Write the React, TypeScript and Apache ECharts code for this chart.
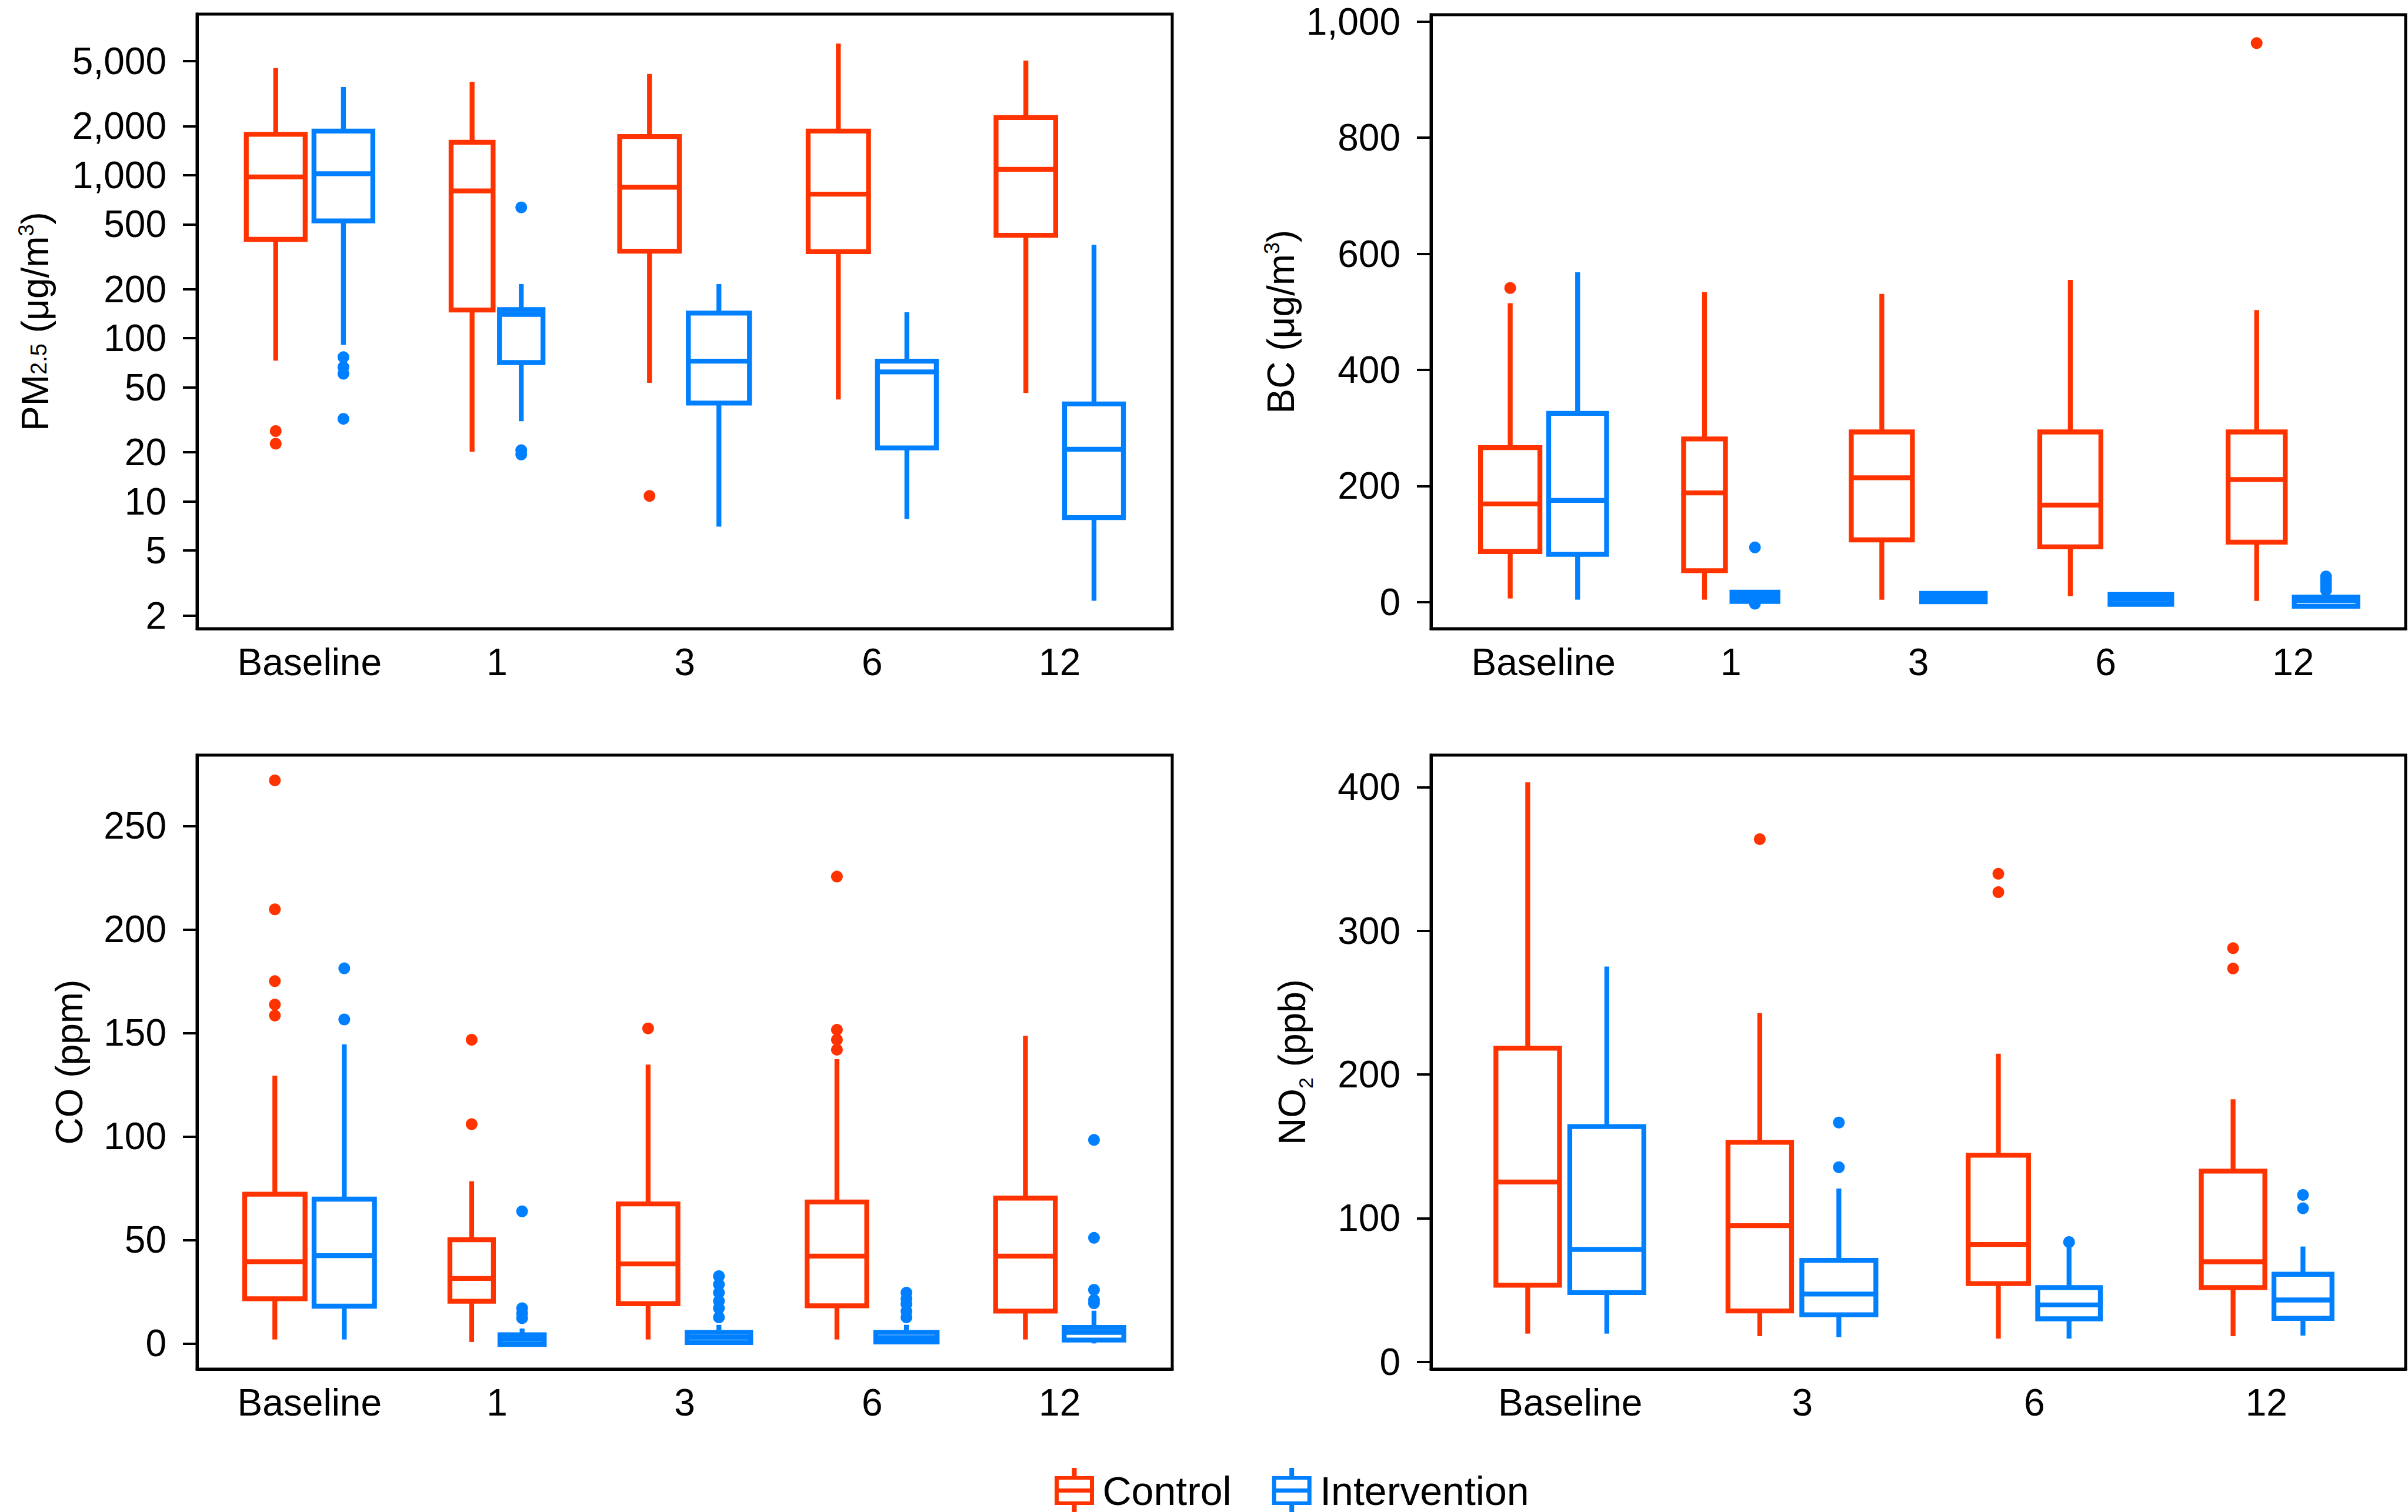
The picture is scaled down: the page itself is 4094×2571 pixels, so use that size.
import React, { useEffect, useRef } from 'react';
import * as echarts from 'echarts';

const RED = '#FF3300';
const BLUE = '#0080FF';
const FONT = "'Liberation Sans', Arial, Helvetica, sans-serif";

// categories
const timepoints5 = ['Baseline', '1', '3', '6', '12'];
const timepoints4 = ['Baseline', '3', '6', '12'];

// box statistics: [min, Q1, median, Q3, max]
const pmControl = [[73, 404, 975, 1780, 4530], [20.2, 149, 801, 1590, 3740], [53.3, 342, 843, 1726, 4170], [42.2, 340, 765, 1862, 6410], [46.2, 428, 1086, 2255, 5040]];
const pmIntervention = [[91, 524, 1020, 1862, 3470], [31, 71, 140, 150, 215], [7.0, 40.1, 72.4, 142.6, 215], [7.8, 21.3, 62.2, 72.4, 144.5], [2.46, 7.96, 20.9, 39.6, 374]];
// outliers: [categoryIndex, value]
const pmControlOut = [[0, 27], [0, 22.6], [2, 10.8]];
const pmInterventionOut = [[0, 76.6], [0, 66.6], [0, 60.6], [0, 32.1], [1, 634], [1, 20.6], [1, 19.4]];
// relative box widths (varwidth)
const pmWidthC = [0.314, 0.224, 0.318, 0.322, 0.318];
const pmWidthI = [0.314, 0.232, 0.326, 0.314, 0.314];

const bcControl = [[6, 87, 169, 266, 515], [4, 54, 188, 281, 534], [4, 107, 214, 293, 531], [10, 95, 167, 293, 555], [2, 103, 211, 293, 503]];
const bcIntervention = [[4, 82, 175, 325, 568], [0, 1, 9, 17, 19], [0, 0.5, 8, 15, 16], [-5, -4, 4.4, 13, 14], [-8, -7.4, 2.2, 8.3, 14]];
const bcControlOut = [[0, 541], [4, 963]];
const bcInterventionOut = [[1, 94], [1, -3], [4, 44], [4, 38], [4, 32], [4, 26], [4, 20]];
const bcWidthC = [0.317, 0.223, 0.326, 0.326, 0.305];
const bcWidthI = [0.309, 0.245, 0.339, 0.329, 0.339];

const coControl = [[1.9, 21.6, 39.5, 72.1, 129.4], [0.7, 20.4, 31.4, 50.1, 78.4], [1.9, 19.2, 38.4, 67.4, 134.7], [1.9, 18.2, 42.2, 68.3, 137.3], [1.9, 15.6, 42.2, 70.2, 148.6]];
const coIntervention = [[1.9, 18, 42.4, 69.7, 144.5], [0, -0.5, 1.9, 4.2, 7.2], [0, 0.4, 3.0, 5.3, 9], [0, 0.7, 2.8, 5.3, 9], [0, 1.6, 5.3, 7.7, 15.8]];
const coControlOut = [[0, 272], [0, 209.7], [0, 175], [0, 163.7], [0, 158.4], [1, 146.7], [1, 105.9], [2, 152.2], [3, 225.5], [3, 151.5], [3, 146.7], [3, 141.9]];
const coInterventionOut = [[0, 181.2], [0, 156.5], [1, 63.8], [1, 17], [1, 14.6], [1, 12.2], [2, 32.5], [2, 28.5], [2, 24.5], [2, 20.5], [2, 17], [2, 12.6], [3, 24.5], [3, 21.5], [3, 19], [3, 15.5], [3, 12.6], [4, 98.3], [4, 51], [4, 25.9], [4, 21], [4, 19.4]];
const coWidthC = [0.322, 0.232, 0.318, 0.318, 0.318];
const coWidthI = [0.322, 0.236, 0.339, 0.327, 0.318];

const no2Control = [[19.7, 53.4, 125.2, 218.3, 403.4], [17.9, 35.5, 94.8, 152.8, 242.8], [16.2, 54.5, 81.7, 143.8, 214.5], [17.9, 51.7, 69.7, 132.8, 182.8]];
const no2Intervention = [[19.7, 48.3, 78.3, 163.8, 275.2], [17.2, 32.8, 47.2, 70.7, 120.7], [16.2, 30, 39.7, 51.7, 82.8], [18.3, 30.3, 43.1, 61, 80.3]];
const no2ControlOut = [[1, 363.8], [2, 339.7], [2, 326.9], [3, 287.9], [3, 273.8]];
const no2InterventionOut = [[1, 166.6], [1, 135.5], [2, 83.4], [3, 116.2], [3, 106.9]];
const no2WidthC = [0.274, 0.274, 0.260, 0.274];
const no2WidthI = [0.319, 0.319, 0.270, 0.250];

// tick labels
const pmTicks = [2, 5, 10, 20, 50, 100, 200, 500, 1000, 2000, 5000];
const bcTicks = [0, 200, 400, 600, 800, 1000];
const coTicks = [0, 50, 100, 150, 200, 250];
const no2Ticks = [0, 100, 200, 300, 400];

const ICON = 'path://M0 14H67V63H0Z M7 20V35H60V20Z M7 42V57H60V42Z M29.5 0H37.5V14H29.5Z M29.5 63H37.5V77H29.5Z';

const fmt = (v: number) => Math.round(v).toLocaleString('en-US');

// dodge: boxes placed side by side, centred on the category
function centers(wc: number[], wi: number[]) {
  const pad = 0.87;
  const c = wc.map((w, k) => k + 1 - wi[k] / pad / 2);
  const i = wi.map((w, k) => k + 1 + wc[k] / pad / 2);
  return { c, i };
}

const makeRender = (color: string) => (params: any, api: any) => {
  const x = api.value(0);
  const w = api.value(6);
  const lo = api.value(1), q1 = api.value(2), med = api.value(3), q3 = api.value(4), hi = api.value(5);
  const pL = api.coord([x - w / 2, q3]);
  const pR = api.coord([x + w / 2, q1]);
  const pMed = api.coord([x, med]);
  const pMin = api.coord([x, lo]);
  const pMax = api.coord([x, hi]);
  const xc = pMed[0];
  const style = { stroke: color, lineWidth: 8.3, fill: 'none' };
  return {
    type: 'group',
    children: [
      { type: 'line', shape: { x1: xc, y1: pL[1], x2: xc, y2: pMax[1] }, style },
      { type: 'line', shape: { x1: xc, y1: pR[1], x2: xc, y2: pMin[1] }, style },
      { type: 'rect', shape: { x: pL[0], y: pL[1], width: pR[0] - pL[0], height: pR[1] - pL[1] }, style },
      { type: 'line', shape: { x1: pL[0], y1: pMed[1], x2: pR[0], y2: pMed[1] }, style },
    ],
  };
};

const nameRich = {
  t: { fontSize: 64, lineHeight: 100, fontFamily: FONT, color: '#000' },
  sub: { fontSize: 38, lineHeight: 38, padding: [11, 0, 0, 0], fontFamily: FONT, color: '#000' },
  low: { fontSize: 34, lineHeight: 34, padding: [46, 0, 0, 0], fontFamily: FONT, color: '#000' },
  sup: { fontSize: 36, lineHeight: 36, padding: [0, 0, 32, 0], fontFamily: FONT, color: '#000' },
};

export default function App() {
  const ref = useRef<HTMLDivElement>(null);
  useEffect(() => {
    if (!ref.current) return;
    const chart = echarts.init(ref.current, undefined, { renderer: 'svg' });

    const panels = [
      { cats: timepoints5, ctrl: pmControl, intv: pmIntervention, cOut: pmControlOut, iOut: pmInterventionOut, wc: pmWidthC, wi: pmWidthI, ticks: pmTicks, log: true, min: 1.66, max: 9705, name: '{t|PM}{sub|2.5}{t| (μg/m}{sup|3}{t|)}', gap: 225 },
      { cats: timepoints5, ctrl: bcControl, intv: bcIntervention, cOut: bcControlOut, iOut: bcInterventionOut, wc: bcWidthC, wi: bcWidthI, ticks: bcTicks, log: false, min: -46, max: 1012, name: '{t|BC (μg/m}{sup|3}{t|)}', gap: 205 },
      { cats: timepoints5, ctrl: coControl, intv: coIntervention, cOut: coControlOut, iOut: coInterventionOut, wc: coWidthC, wi: coWidthI, ticks: coTicks, log: false, min: -12.4, max: 284.2, name: '{t|CO (ppm)}', gap: 167 },
      { cats: timepoints4, ctrl: no2Control, intv: no2Intervention, cOut: no2ControlOut, iOut: no2InterventionOut, wc: no2WidthC, wi: no2WidthI, ticks: no2Ticks, log: false, min: -5, max: 422.3, name: '{t|NO}{low|2}{t| (ppb)}', gap: 186 },
    ];

    const grids = [
      { left: 335, top: 24, width: 1658, height: 1045 },
      { left: 2433, top: 25, width: 1657, height: 1044 },
      { left: 335, top: 1284, width: 1658, height: 1044 },
      { left: 2433, top: 1284, width: 1657, height: 1044 },
    ].map((g) => ({ ...g, show: true, borderColor: '#000', borderWidth: 5, backgroundColor: 'transparent' }));

    const xAxis: any[] = [];
    const yAxis: any[] = [];
    const series: any[] = [];

    panels.forEach((p, pi) => {
      const n = p.cats.length;
      const xs = Array.from({ length: n }, (_, k) => k + 1);
      xAxis.push({
        type: 'value', gridIndex: pi, min: 0.4, max: n + 0.6,
        axisLine: { show: true, onZero: false, lineStyle: { color: '#000', width: 5 } },
        axisTick: { show: false },
        splitLine: { show: false },
        axisLabel: {
          customValues: xs, margin: 25, fontSize: 64, color: '#000', fontFamily: FONT,
          formatter: (v: number) => p.cats[Math.round(v) - 1],
        },
      });
      yAxis.push({
        type: p.log ? 'log' : 'value', logBase: 10, gridIndex: pi, min: p.min, max: p.max,
        axisLine: { show: true, onZero: false, lineStyle: { color: '#000', width: 5 } },
        axisTick: { show: true, length: 24, lineStyle: { color: '#000', width: 4 }, customValues: p.ticks },
        splitLine: { show: false },
        axisLabel: { customValues: p.ticks, margin: 52, fontSize: 64, color: '#000', fontFamily: FONT, formatter: (v: number) => fmt(v) },
        name: p.name, nameLocation: 'middle', nameRotate: 90, nameGap: p.gap, nameMoveOverlap: false,
        nameTextStyle: { rich: nameRich, fontFamily: FONT, color: '#000' },
      });
      const cen = centers(p.wc, p.wi);
      const groups = [
        { name: 'Control', color: RED, box: p.ctrl, out: p.cOut, x: cen.c, w: p.wc },
        { name: 'Intervention', color: BLUE, box: p.intv, out: p.iOut, x: cen.i, w: p.wi },
      ];
      groups.forEach((g) => {
        series.push({
          type: 'custom', name: g.name, xAxisIndex: pi, yAxisIndex: pi,
          itemStyle: { color: g.color },
          renderItem: makeRender(g.color),
          encode: { x: 0, y: 1 },
          data: g.box.map((b, k) => [g.x[k], b[0], b[1], b[2], b[3], b[4], g.w[k]]),
          z: 2,
        });
        series.push({
          type: 'scatter', name: g.name, xAxisIndex: pi, yAxisIndex: pi,
          symbol: 'circle', symbolSize: 20,
          itemStyle: { color: g.color, opacity: 1 },
          data: g.out.map((o) => [g.x[o[0]], o[1]]),
          z: 3,
        });
      });
    });

    chart.setOption({
      animation: false,
      backgroundColor: '#fff',
      textStyle: { fontFamily: FONT },
      grid: grids,
      xAxis,
      yAxis,
      series,
      legend: {
        left: 1793, top: 2496, padding: 0, itemGap: 69, itemWidth: 86, itemHeight: 77,
        selectedMode: false,
        textStyle: { fontSize: 68, color: '#000', fontFamily: FONT },
        data: [
          { name: 'Control', icon: ICON, itemStyle: { color: RED, borderWidth: 0 } },
          { name: 'Intervention', icon: ICON, itemStyle: { color: BLUE, borderWidth: 0 } },
        ],
      },
    });
    return () => chart.dispose();
  }, []);
  return <div ref={ref} style={{ position: 'absolute', left: 0, top: 0, width: 4094, height: 2571 }} />;
}
